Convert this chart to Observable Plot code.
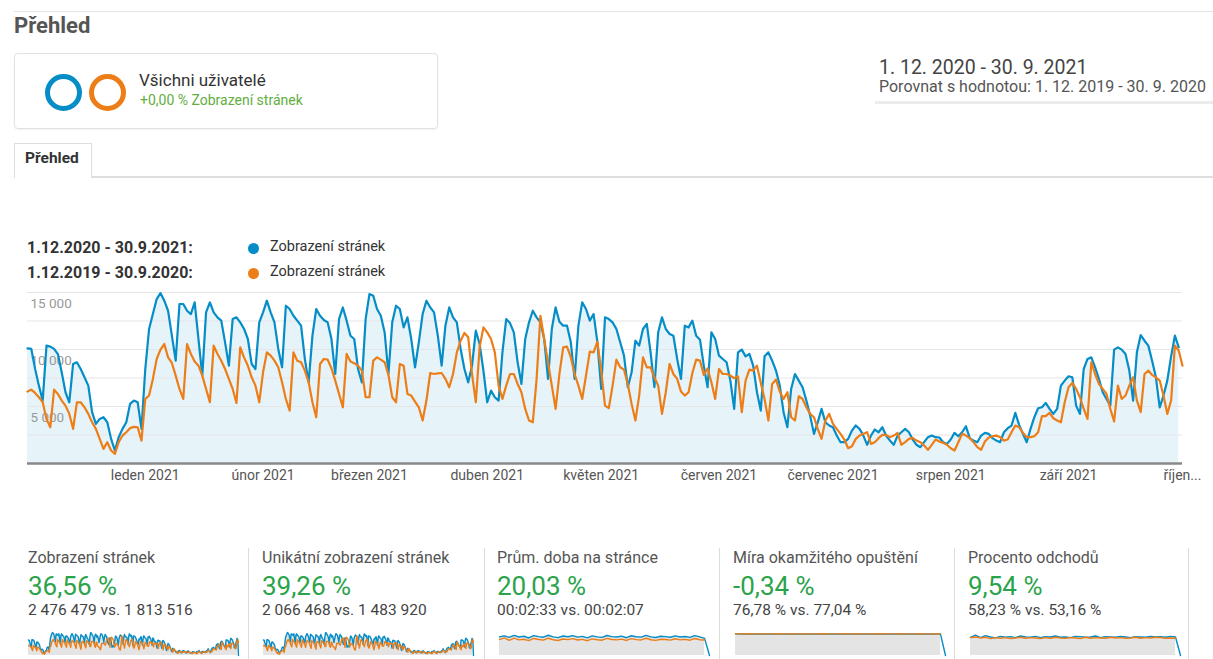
<!DOCTYPE html>
<html><head><meta charset="utf-8">
<script src="https://cdn.jsdelivr.net/npm/d3@7"></script>
<script src="https://cdn.jsdelivr.net/npm/@observablehq/plot@0.6"></script>
<style>
html,body{margin:0;padding:0}
body{width:1213px;height:659px;overflow:hidden;background:#fff;font-family:Roboto,"Noto Sans",Arial,sans-serif;position:relative;color:#333}
.a{position:absolute;white-space:nowrap;line-height:1.15}
.t{line-height:1}
#main{position:absolute;left:0;top:280px}
.spark{position:absolute}
.sep{position:absolute;top:548px;width:1px;height:111px;background:#dcdcdc}
</style></head><body>

<div class="a" style="left:14px;top:11px;width:1199px;height:1px;background:#e6e6e6"></div>
<div class="a" style="left:14px;top:13px;font-size:22px;font-weight:bold;color:#555">Přehled</div>

<div class="a" style="left:14px;top:53px;width:422px;height:74px;border:1px solid #e2e2e2;border-radius:4px;box-shadow:0 1px 2px rgba(0,0,0,0.06)"></div>
<div class="a" style="left:45px;top:74px;width:27px;height:27px;border:5px solid #058dc7;border-radius:50%"></div>
<div class="a" style="left:89px;top:74px;width:27px;height:27px;border:5px solid #ed7e17;border-radius:50%"></div>
<div class="a" style="left:139px;top:71px;font-size:17px;color:#333">Všichni uživatelé</div>
<div class="a" style="left:140px;top:92px;font-size:14px;color:#5fae3e">+0,00 % Zobrazení stránek</div>

<div class="a" style="left:879px;top:57px;font-size:19.5px;color:#444">1. 12. 2020 - 30. 9. 2021</div>
<div class="a" style="left:879px;top:78px;font-size:16px;color:#555">Porovnat s hodnotou: 1. 12. 2019 - 30. 9. 2020</div>
<div class="a" style="left:875px;top:101px;width:338px;height:3px;background:#ececec"></div>

<div class="a" style="left:14px;top:176px;width:1199px;height:2px;background:#dedede"></div>
<div class="a" style="left:14px;top:143px;width:76px;height:34px;border:1px solid #dedede;border-bottom:none;background:#fff"></div>
<div class="a" style="left:25px;top:150px;font-size:15.5px;font-weight:bold;color:#333">Přehled</div>

<div class="a" style="left:27px;top:239px;font-size:16px;font-weight:bold;color:#333">1.12.2020 - 30.9.2021:</div>
<div class="a" style="left:248px;top:243px;width:11px;height:11px;border-radius:50%;background:#058dc7"></div>
<div class="a" style="left:270px;top:239px;font-size:14.5px;color:#333">Zobrazení stránek</div>
<div class="a" style="left:27px;top:264px;font-size:16px;font-weight:bold;color:#333">1.12.2019 - 30.9.2020:</div>
<div class="a" style="left:248px;top:268px;width:11px;height:11px;border-radius:50%;background:#ed7e17"></div>
<div class="a" style="left:270px;top:264px;font-size:14.5px;color:#333">Zobrazení stránek</div>

<div id="main"></div>
<div id="panels"></div>

<script>
// Daily page views, 1. 12. 2020 – 30. 9. 2021 (current period)
const blueViews = [
10100,10050,8300,6830,5520,10340,10250,10050,9600,8000,
6250,5370,8730,8880,8290,7560,6830,4500,3470,3910,
4060,3620,2160,1140,2310,3040,3620,5230,5520,5370,
3040,8290,11800,13110,14420,14950,14280,13400,11210,9020,
13990,13990,13400,13110,14130,10920,7710,13260,14130,13260,
12820,12530,10630,8580,12670,12820,12380,11800,10920,8730,
8290,12380,13260,14280,13260,12380,10050,8440,13840,13550,
12960,12530,12090,9170,7120,11210,13550,12960,12590,12380,
10920,7850,12670,13690,12530,11210,10920,8290,7120,12670,
14860,14720,13550,12960,11500,7850,12380,13840,13550,11940,
12820,10920,8440,10630,13110,14280,13690,13260,11210,8580,
12090,13690,12820,12380,10050,8290,7120,8580,11650,10480,
8150,5370,6390,5810,5520,9750,12670,12320,11500,8880,
6980,10920,12380,13400,12820,12380,10920,7420,11800,13690,
12440,12090,12090,10630,7420,12090,14130,13550,12530,13110,
10630,6540,12820,12670,12380,11800,10630,9460,6690,8000,
10770,10340,11800,12240,9750,6690,11500,12820,11800,11360,
11210,9170,7420,12090,11940,12530,11210,10860,8580,6690,
11500,10920,9460,9170,8880,7270,4790,9750,9990,9400,
9610,8580,6250,4640,9400,9750,9020,8150,6830,4500,
3180,6540,7850,7270,6690,5520,4200,2600,3620,4790,
3620,3330,3180,2450,1870,1870,2160,2890,3330,3040,
2450,1640,2450,2980,2740,3180,2450,2010,1640,2450,
2740,3040,2740,2100,1640,1430,1870,2310,2450,2310,
2280,1870,1720,2100,2690,2390,2740,3270,2220,2010,
1870,2450,2690,2600,2220,2010,1870,2740,3100,3330,
4440,3390,2600,1870,3040,4060,4850,4930,5310,4790,
4350,4790,6830,7270,7650,7560,5080,4350,8290,9170,
9310,8440,7420,6250,5660,5080,9990,10190,9990,9610,
8150,5520,9750,11270,10770,10340,9020,7560,4930,5960,
7270,9400,11210,10190];

// Daily page views, 1. 12. 2019 – 30. 9. 2020 (comparison period)
const orangeViews = [
6310,6480,6190,5810,5370,3910,3180,6480,6100,5520,
5080,4350,3040,5370,5370,4930,4350,3620,3040,2160,
1280,1870,1140,850,1870,2450,2740,3100,3210,3180,
2010,5660,5960,7420,9170,9990,10480,9310,8820,7710,
6540,5660,10480,9610,8940,8580,7710,6540,5370,10340,
9610,9020,8290,7420,6540,5310,10190,9310,8580,7560,
6830,5370,8000,9750,9460,9020,8440,7120,5660,4640,
9750,9020,8880,8150,7120,5370,4060,8730,9170,9110,
8350,7270,6100,4930,9610,8940,8790,8580,8150,5810,
5810,9020,9310,9110,8880,7770,5810,5370,8730,8580,
6100,5960,5430,4930,3770,5520,7940,7850,7910,7940,
7420,6690,7850,9750,10770,11450,11070,7850,5370,10190,
11940,11500,10920,9750,6830,5660,6830,7850,7850,6980,
6250,4790,3770,3620,7420,12960,10920,8880,6830,4790,
7850,10190,10250,9310,7850,6830,5660,7710,9810,9750,
10690,8150,5080,4850,6830,9110,8440,8230,6980,5230,
3770,5960,9310,8440,8440,7560,6830,4350,6250,8730,
7850,7420,6310,5960,6250,7940,9110,9020,7770,8350,
7120,5660,8290,7850,7850,7710,7480,7650,4500,7270,
8230,8150,8580,7070,5660,3770,6980,7360,6310,5660,
6250,4060,3770,5900,5660,4930,4350,4060,3040,2160,
3770,4350,3470,3040,2600,2100,1340,1520,2160,2450,
2600,2740,1720,1870,2220,2510,2510,2310,2450,2690,
1640,1870,2160,2250,2010,1870,1580,1200,1640,2100,
1930,1810,1640,1340,1140,1870,2600,2450,2220,1870,
1430,1200,1930,2280,2390,2450,2310,2010,2100,2740,
3330,3180,2690,2310,2310,2390,2740,4150,4150,4440,
3970,3770,3620,5370,6690,7070,6540,5810,4790,3910,
8880,7850,6980,6540,6100,4790,3680,6830,5660,5960,
6830,7560,5520,4500,7850,8150,7770,7560,7270,5960,
4350,5520,10340,9900,8580];

const startDate = "2020-12-01";
const monthTicks = ["2021-01-01","2021-02-01","2021-03-01","2021-04-01","2021-05-01","2021-06-01","2021-07-01","2021-08-01","2021-09-01","2021-10-01"];
const monthLabels = ["leden 2021","únor 2021","březen 2021","duben 2021","květen 2021","červen 2021","červenec 2021","srpen 2021","září 2021","říjen..."];
const yTicks = [5000, 10000, 15000];

// Summary panels
const metricTitles = ["Zobrazení stránek","Unikátní zobrazení stránek","Prům. doba na stránce","Míra okamžitého opuštění","Procento odchodů"];
const metricChanges = ["36,56 %","39,26 %","20,03 %","-0,34 %","9,54 %"];
const metricCompares = ["2 476 479 vs. 1 813 516","2 066 468 vs. 1 483 920","00:02:33 vs. 00:02:07","76,78 % vs. 77,04 %","58,23 % vs. 53,16 %"];

// Sparkline series (last current-period point is the unfinished day)
const sparkViewsBlue = blueViews.concat([0]);
const avgTimeBlue = [150,158,146,162,149,155,141,160,152,147,163,150,144,157,151,160,148,154,142,158,150,146,161,152,149,156,143,159,151,148,162,150,145,155,152,147,158,149,153,146,160,150,138,0];
const avgTimeOrange = [128,142,122,140,126,131,120,137,129,124,139,127,121,133,128,136,125,130,119,134,127,123,138,129,126,132,121,136,128,125,139,127,122,131,129,124,135,126,130,123,137,127,125];
const bounceBlue = [77.5,76.9,76.5,77.2,76.8,76.4,77.0,76.7,76.9,76.3,77.1,76.8,76.6,77.0,76.5,76.9,76.7,77.2,76.6,76.8,76.4,77.0,76.9,76.6,76.8,77.1,76.5,76.9,76.7,76.8,76.6,77.0,76.8,76.5,76.9,76.7,77.0,76.6,76.8,76.7,76.9,76.5,0];
const bounceOrange = [77.6,77.0,76.8,77.3,77.1,76.9,77.2,77.0,76.8,77.3,77.1,76.9,77.0,77.2,76.8,77.1,77.0,77.3,76.9,77.1,77.0,77.2,77.4,77.0,76.9,77.2,77.1,77.0,76.8,77.3,77.1,77.0,77.2,76.9,77.1,77.0,77.2,76.9,77.1,77.0,76.8,77.0];
const exitBlue = [57,64,56,62,58,55,60,57,59,56,61,58,57,60,56,59,58,61,57,58,56,60,59,57,58,61,56,59,58,57,60,58,56,59,58,57,60,58,59,57,60,58,0];
const exitOrange = [56,58,55,57,53,56,54,56,53,55,57,54,56,55,53,56,54,57,55,54,56,55,53,57,54,56,55,54,57,55,56,54,55,57,54,56,55,57,56,54,55,54];

const C_BLUE = "#058dc7", C_ORANGE = "#ed7e17";
const t0 = new Date(startDate);
const toRows = arr => arr.map((v, i) => ({date: d3.utcDay.offset(t0, i), v}));
const blueRows = toRows(blueViews);
const orangeRows = toRows(orangeViews);
const fmtNum = d => d3.format(",")(d).replace(/,/g, "\u00a0");
const tickDates = monthTicks.map(s => new Date(s));

const main = Plot.plot({
  width: 1213, height: 210,
  marginLeft: 27, marginRight: 31, marginTop: 12, marginBottom: 27,
  style: {fontFamily: "Roboto, 'Noto Sans', Arial, sans-serif", fontSize: "14px", color: "#555", background: "transparent", overflow: "visible"},
  x: {type: "utc", domain: [t0, new Date(monthTicks[monthTicks.length - 1])]},
  y: {domain: [0, 15000]},
  marks: [
    Plot.areaY(blueRows, {x: "date", y: "v", fill: C_BLUE, fillOpacity: 0.1}),
    Plot.gridY([2500,5000,7500,10000,12500,15000], {stroke: "#e6e6e6", strokeOpacity: 1, strokeWidth: 1.2}),
    Plot.axisY(yTicks, {anchor: "left", tickSize: 0, tickPadding: 0, textAnchor: "start", dx: 3, dy: 11, tickFormat: fmtNum, fill: "#999", fontSize: 13.5, label: null}),
    Plot.axisX(tickDates, {anchor: "bottom", tickSize: 0, tickPadding: 7, tickFormat: (d, i) => monthLabels[i], fill: "#555", fontSize: 14, label: null}),
    Plot.lineY(blueRows, {x: "date", y: "v", stroke: C_BLUE, strokeWidth: 2.2}),
    Plot.lineY(orangeRows, {x: "date", y: "v", stroke: C_ORANGE, strokeWidth: 2.2}),
    Plot.ruleY([0], {stroke: "#888", strokeWidth: 2.5})
  ]
});
document.getElementById("main").appendChild(main);

// Summary panels
const panelX = [28, 262, 497, 733, 968];
const sepX = [248, 484, 719, 954, 1188];
const sparkX = [28, 263, 499, 735, 970];
const sparkSeries = [
  [sparkViewsBlue, orangeViews, 15000],
  [sparkViewsBlue, orangeViews, 15000],
  [avgTimeBlue, avgTimeOrange, 185],
  [bounceBlue, bounceOrange, 82],
  [exitBlue, exitOrange, 72]
];
const panels = document.getElementById("panels");
sepX.forEach(x => {
  const s = document.createElement("div"); s.className = "sep"; s.style.left = x + "px"; panels.appendChild(s);
});
metricTitles.forEach((t, i) => {
  const add = (txt, top, size, color) => {
    const d = document.createElement("div");
    d.className = "a t"; d.textContent = txt;
    d.style.cssText += `left:${panelX[i]}px;top:${top}px;font-size:${size}px;color:${color}`;
    panels.appendChild(d);
  };
  add(t, 550, 16, "#555");
  add(metricChanges[i], 573, 26, "#2ba34b");
  add(metricCompares[i], 603, 15.5, "#444");
  const [b, o, top] = sparkSeries[i];
  const sp = Plot.plot({
    width: 210, height: 24, margin: 0, marginTop: 1,
    x: {axis: null, domain: [0, Math.max(b.length, o.length) - 1]},
    y: {axis: null, domain: [0, top]},
    style: {background: "transparent", overflow: "visible"},
    marks: [
      Plot.areaY(b.slice(0, -1), {fill: "#e4e4e4"}),
      Plot.lineY(b, {stroke: C_BLUE, strokeWidth: 1.4}),
      Plot.lineY(o, {stroke: C_ORANGE, strokeWidth: 1.4})
    ]
  });
  sp.classList.add("spark");
  sp.style.left = sparkX[i] + "px"; sp.style.top = "631px";
  panels.appendChild(sp);
});
</script>
</body></html>
